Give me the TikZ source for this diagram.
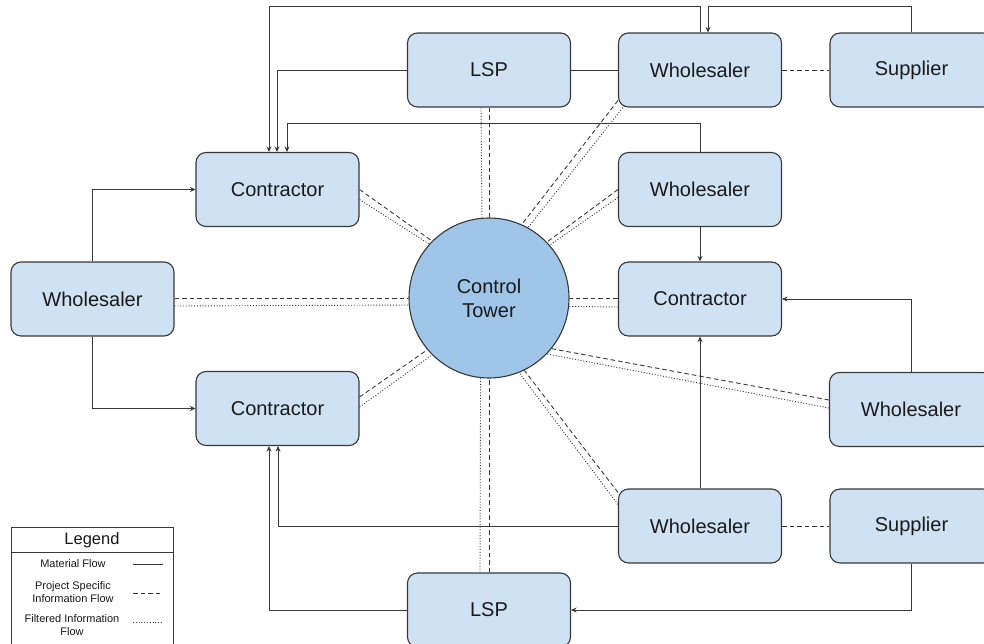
\documentclass[tikz,border=0pt]{standalone}
\usepackage{fontspec}
\setmainfont{Liberation Sans}
\usetikzlibrary{arrows.meta}
\definecolor{boxfill}{HTML}{CFE2F3}
\definecolor{towerfill}{HTML}{9FC5E8}
\definecolor{edge}{HTML}{383838}
\definecolor{ink}{HTML}{1A1A1A}

\begin{document}
\begin{tikzpicture}[x=1pt,y=-1pt,
  party/.style={draw=edge, line width=1.1pt, fill=boxfill, rounded corners=10pt,
    minimum width=163pt, minimum height=74pt, inner sep=0pt,
    font=\fontsize{20}{24}\selectfont, text=ink},
  tower/.style={circle, draw=edge, line width=1.1pt, fill=towerfill,
    minimum size=160pt, inner sep=0pt, align=center,
    font=\fontsize{20}{24}\selectfont, text=ink},
  mat/.style={draw=edge, line width=0.9pt, -{Stealth[length=5.5pt,width=5pt]}},
  link/.style={draw=edge, line width=0.9pt},
  prj/.style={draw=edge, line width=0.9pt, dash pattern=on 4.5pt off 3pt},
  flt/.style={draw=edge, line width=0.9pt, dash pattern=on 1pt off 1.8pt},
  legtext/.style={font=\fontsize{11}{12.5}\selectfont, align=center, text=ink},
]
\useasboundingbox (0,0) rectangle (984,644);
\clip (0,0) rectangle (984,644);

% participants
\node[party] (lspT) at (489,70) {LSP};
\node[party] (wT)   at (700,70) {Wholesaler};
\node[party] (supT) at (911.5,70) {Supplier};
\node[party] (c1)   at (277.5,189.5) {Contractor};
\node[party] (wL)   at (92.5,299) {Wholesaler};
\node[party] (c2)   at (277.5,408.5) {Contractor};
\node[party] (w2)   at (700,189.5) {Wholesaler};
\node[party] (cR)   at (700,299) {Contractor};
\node[party] (wR)   at (911,409.5) {Wholesaler};
\node[party] (wB)   at (700,526) {Wholesaler};
\node[party] (supB) at (911.5,526) {Supplier};
\node[party] (lspB) at (489,610) {LSP};
\node[tower] (ct)   at (489,298) {Control\\Tower};

% material flow
\draw[mat] (wT.north) -- ++(0,-26) -| ([xshift=-8.5pt]c1.north);
\draw[mat] (lspT.west) -| ([xshift=-0.5pt]c1.north);
\draw[mat] (w2.north) -- ++(0,-28) -| ([xshift=9.5pt]c1.north);
\draw[link] (lspT.east) -- (wT.west);
\draw[mat] (supT.north) -- ++(0,-26) -| ([xshift=8pt]wT.north);
\draw[mat] (w2.south) -- (cR.north);
\draw[mat] (wR.north) |- (cR.east);
\draw[mat] (wB.north) -- (cR.south);
\draw[mat] (wB.west) -| ([xshift=0.5pt]c2.south);
\draw[mat] (lspB.west) -| ([xshift=-8.5pt]c2.south);
\draw[mat] (supB.south) |- (lspB.east);
\draw[mat] (wL.north) |- (c1.west);
\draw[mat] (wL.south) |- (c2.west);

% project specific links between partners
\draw[prj] (wT.east) -- (supT.west);
\draw[prj] (wB.east) -- (supB.west);

% information flows to and from the control tower
\draw[prj] (c1.east) -- (ct.135.5);
\draw[flt] ([yshift=-10pt]c1.east) -- (ct.138.5);
\draw[prj] ([yshift=11.5pt]c2.east) -- (ct.220.7);
\draw[flt] ([yshift=1.5pt]c2.east) -- (ct.225);
\draw[prj] ([yshift=1pt]wL.east) -- (ct.180);
\draw[flt] ([yshift=-7pt]wL.east) -- (ct.185.7);
\draw[prj] ([yshift=1pt]cR.west) -- (ct.0);
\draw[flt] ([yshift=-8pt]cR.west) -- (ct.-6.5);
\draw[prj] (lspT.south) -- (ct.90);
\draw[flt] ([xshift=-8pt]lspT.south) -- (ct.95.7);
\draw[prj] (lspB.north) -- (ct.270);
\draw[flt] ([xshift=-9pt]lspB.north) -- (ct.264);
\draw[prj] ([shift={(0pt,7pt)}]wT.south west) -- (ct.66.5);
\draw[flt] ([shift={(6.5pt,2pt)}]wT.south west) -- (ct.61);
\draw[prj] (w2.west) -- (ct.44.5);
\draw[flt] ([yshift=-8pt]w2.west) -- (ct.41);
\draw[prj] ([yshift=9.5pt]wR.west) -- (ct.-39);
\draw[flt] ([yshift=1.5pt]wR.west) -- (ct.-44);
\draw[prj] ([yshift=-4pt]wB.north west) -- (ct.-64);
\draw[flt] ([yshift=-16pt]wB.north west) -- (ct.-68);

% legend
\draw[edge, line width=1pt, fill=white] (11,527) rectangle (173,652);
\draw[edge, line width=1pt] (11,552) -- (173,552);
\node[font=\fontsize{16.5}{18}\selectfont, text=ink] (legT) at (92,540) {Legend};
\node[legtext] (legA) at (73,563.5) {Material Flow};
\node[legtext] (legB) at (73,592) {Project Specific\\Information Flow};
\node[legtext] (legC) at (72,625) {Filtered Information\\Flow};
\coordinate (la1) at (133,564); \coordinate (la2) at (163,564);
\coordinate (lb1) at (133,593); \coordinate (lb2) at (163,593);
\coordinate (lc1) at (133,622); \coordinate (lc2) at (163,622);
\draw[link] (la1) -- (la2);
\draw[prj] (lb1) -- (lb2);
\draw[flt] (lc1) -- (lc2);
\end{tikzpicture}
\end{document}
